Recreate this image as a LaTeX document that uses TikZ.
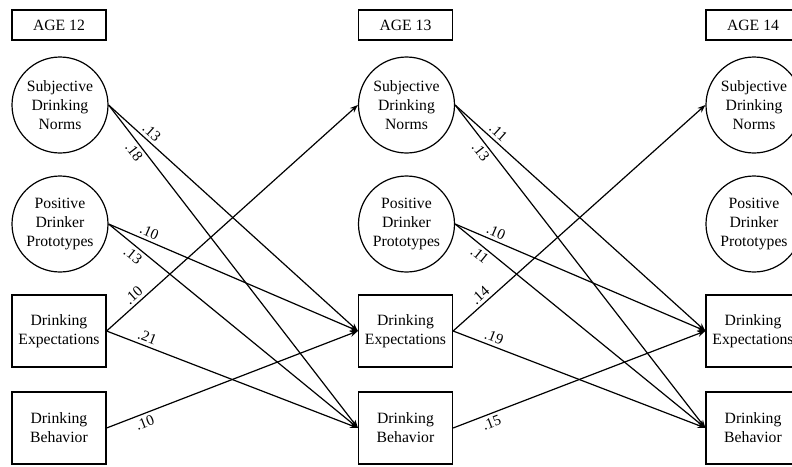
\documentclass[tikz,border=0pt]{standalone}
\usepackage{fontspec}
\setmainfont{Liberation Serif}
\usetikzlibrary{arrows.meta}
\begin{document}
\begin{tikzpicture}[x=1pt,y=-1pt,
  every node/.style={font=\fontsize{15.7}{19}\selectfont, align=center},
  agebox/.style={draw, line width=1.2pt, minimum width=94pt, minimum height=30pt, inner sep=0pt},
  circ/.style={draw, circle, line width=1.2pt, minimum size=96pt, inner sep=0pt},
  rbox/.style={draw, line width=1.2pt, minimum width=94pt, minimum height=72pt, inner sep=0pt},
  path/.style={line width=1.2pt, -{Stealth[length=8pt,width=6pt]}},
  coef/.style={font=\fontsize{15}{16}\selectfont, sloped, inner sep=3pt}
]
\useasboundingbox (0,0) rectangle (792,466);
\clip (0,0) rectangle (792,466);
% headers
\node[agebox] (a12) at (59,25) {AGE 12};
\node[agebox] (a13) at (405.5,25) {AGE 13};
\node[agebox] (a14) at (753,25) {AGE 14};
% column 1
\node[circ] (sdn1) at (60,105) {Subjective\\Drinking\\Norms};
\node[circ] (pdp1) at (60,224) {Positive\\Drinker\\Prototypes};
\node[rbox] (de1) at (59,331) {Drinking\\Expectations};
\node[rbox] (db1) at (59,428) {Drinking\\Behavior};
% column 2
\node[circ] (sdn2) at (406.5,105) {Subjective\\Drinking\\Norms};
\node[circ] (pdp2) at (406.5,224) {Positive\\Drinker\\Prototypes};
\node[rbox] (de2) at (405.5,331) {Drinking\\Expectations};
\node[rbox] (db2) at (405.5,428) {Drinking\\Behavior};
% column 3
\node[circ] (sdn3) at (754,105) {Subjective\\Drinking\\Norms};
\node[circ] (pdp3) at (754,224) {Positive\\Drinker\\Prototypes};
\node[rbox] (de3) at (753,331) {Drinking\\Expectations};
\node[rbox] (db3) at (753,428) {Drinking\\Behavior};
% paths 12 -> 13
\draw[path] (sdn1.east) -- node[coef, pos=0.15, above] {.13} (de2.west);
\draw[path] (sdn1.east) -- node[coef, pos=0.13, below] {.18} (db2.west);
\draw[path] (pdp1.east) -- node[coef, pos=0.15, above] {.10} (de2.west);
\draw[path] (pdp1.east) -- node[coef, pos=0.12, below] {.13} (db2.west);
\draw[path] (de1.east) -- node[coef, pos=0.13, above] {.10} (sdn2.west);
\draw[path] (de1.east) -- node[coef, pos=0.15, above] {.21} (db2.west);
\draw[path] (db1.east) -- node[coef, pos=0.14, below] {.10} (de2.west);
% paths 13 -> 14
\draw[path] (sdn2.east) -- node[coef, pos=0.15, above] {.11} (de3.west);
\draw[path] (sdn2.east) -- node[coef, pos=0.13, below] {.13} (db3.west);
\draw[path] (pdp2.east) -- node[coef, pos=0.15, above] {.10} (de3.west);
\draw[path] (pdp2.east) -- node[coef, pos=0.12, below] {.11} (db3.west);
\draw[path] (de2.east) -- node[coef, pos=0.13, above] {.14} (sdn3.west);
\draw[path] (de2.east) -- node[coef, pos=0.15, above] {.19} (db3.west);
\draw[path] (db2.east) -- node[coef, pos=0.14, below] {.15} (de3.west);
\end{tikzpicture}
\end{document}
